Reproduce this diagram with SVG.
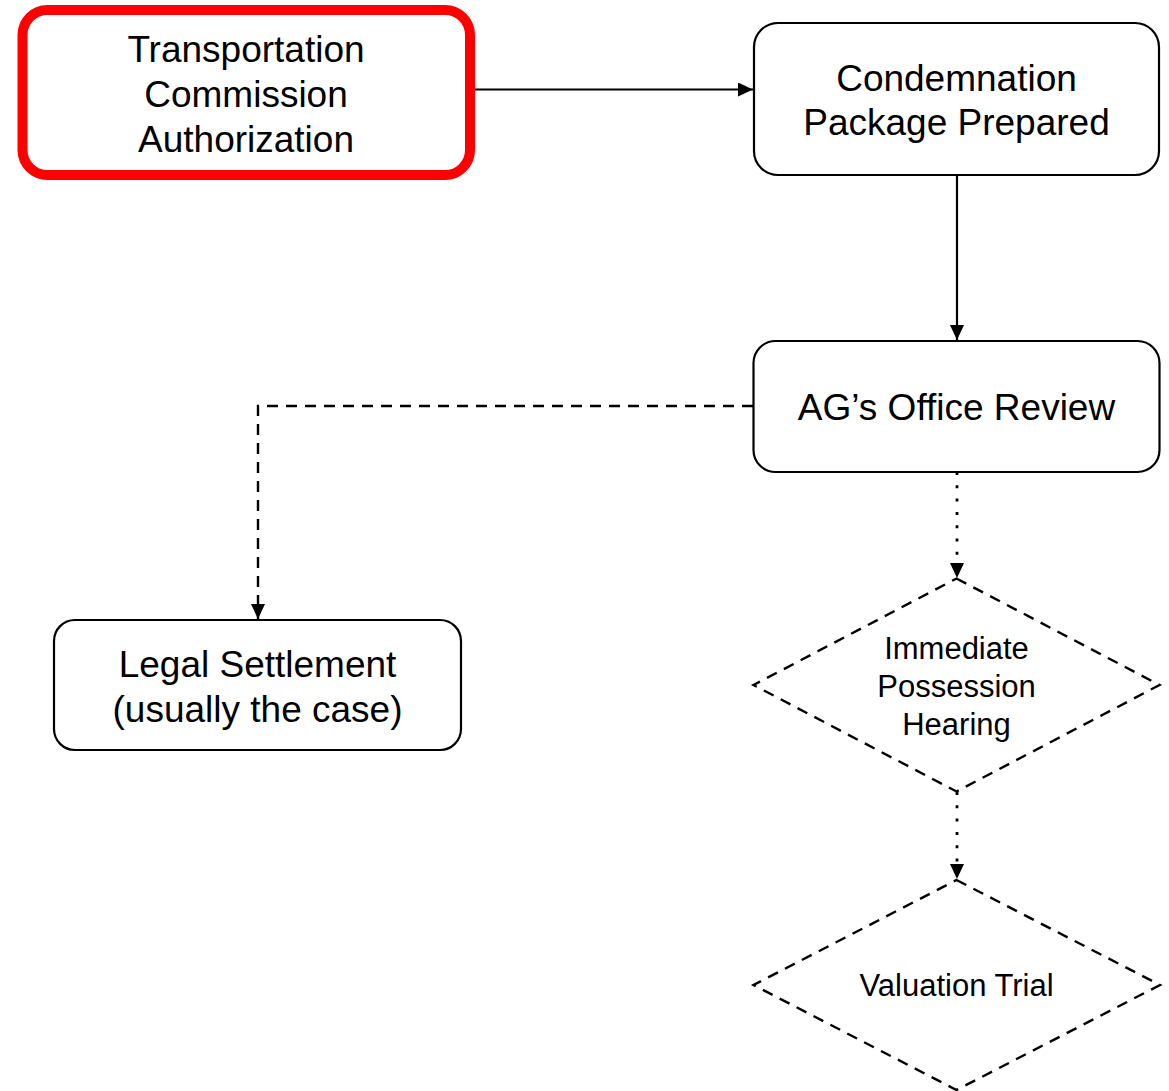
<svg xmlns="http://www.w3.org/2000/svg" width="1169" height="1091" viewBox="0 0 1169 1091">
  <style>
    .box { fill: #ffffff; stroke: #000000; stroke-width: 2.2; }
    .start { fill: #ffffff; stroke: #ff0000; stroke-width: 10; }
    .decision { fill: #ffffff; stroke: #000000; stroke-width: 2.4; stroke-dasharray: 11 8; }
    .label { font-family: "Liberation Sans", Arial, sans-serif; fill: #000000; text-anchor: middle; }
    .big { font-size: 37px; }
    .small { font-size: 31px; }
    .edge { fill: none; stroke: #000000; stroke-width: 2.2; }
    .dashed { stroke-width: 2.4; stroke-dasharray: 11 8; }
    .dotted { stroke-width: 2.8; stroke-dasharray: 3 10.3; }
  </style>
  <defs>
    <marker id="arrow" markerUnits="userSpaceOnUse" markerWidth="15" markerHeight="14" refX="15" refY="7" orient="auto">
      <path d="M0,0 L15,7 L0,14 Z" fill="#000000"/>
    </marker>
  </defs>

  <rect width="1169" height="1091" fill="#ffffff"/>

  <!-- connectors -->
  <g id="connectors">
    <path class="edge" d="M468,89.5 H753" marker-end="url(#arrow)"/>
    <path class="edge" d="M957,176 V340" marker-end="url(#arrow)"/>
    <path class="edge dashed" d="M753,406 H258 V619" marker-end="url(#arrow)"/>
    <path class="edge dotted" d="M957,472 V578" marker-end="url(#arrow)"/>
    <path class="edge dotted" d="M957,792 V879" marker-end="url(#arrow)"/>
  </g>

  <!-- nodes -->
  <g id="node-authorization">
    <rect class="start" x="22.5" y="10" width="447.5" height="165" rx="25" ry="25"/>
    <text class="label big" x="246" y="62">Transportation</text>
    <text class="label big" x="246" y="107">Commission</text>
    <text class="label big" x="246" y="152">Authorization</text>
  </g>

  <g id="node-package">
    <rect class="box" x="754" y="23" width="405" height="152" rx="24" ry="24"/>
    <text class="label big" x="956.5" y="91">Condemnation</text>
    <text class="label big" x="956.5" y="135">Package Prepared</text>
  </g>

  <g id="node-review">
    <rect class="box" x="753.5" y="341" width="406" height="131" rx="22" ry="22"/>
    <text class="label big" x="956.5" y="420">AG’s Office Review</text>
  </g>

  <g id="node-settlement">
    <rect class="box" x="54" y="620" width="407" height="130" rx="21" ry="21"/>
    <text class="label big" x="257.5" y="677">Legal Settlement</text>
    <text class="label big" x="257.5" y="722">(usually the case)</text>
  </g>

  <g id="node-possession">
    <polygon class="decision" points="956.5,578.5 1159.5,685 956.5,791.5 753.5,685"/>
    <text class="label small" x="956.5" y="659">Immediate</text>
    <text class="label small" x="956.5" y="697">Possession</text>
    <text class="label small" x="956.5" y="735">Hearing</text>
  </g>

  <g id="node-trial">
    <polygon class="decision" points="956.5,880 1160,985 956.5,1090 753.5,985"/>
    <text class="label small" x="956.5" y="996">Valuation Trial</text>
  </g>
</svg>
